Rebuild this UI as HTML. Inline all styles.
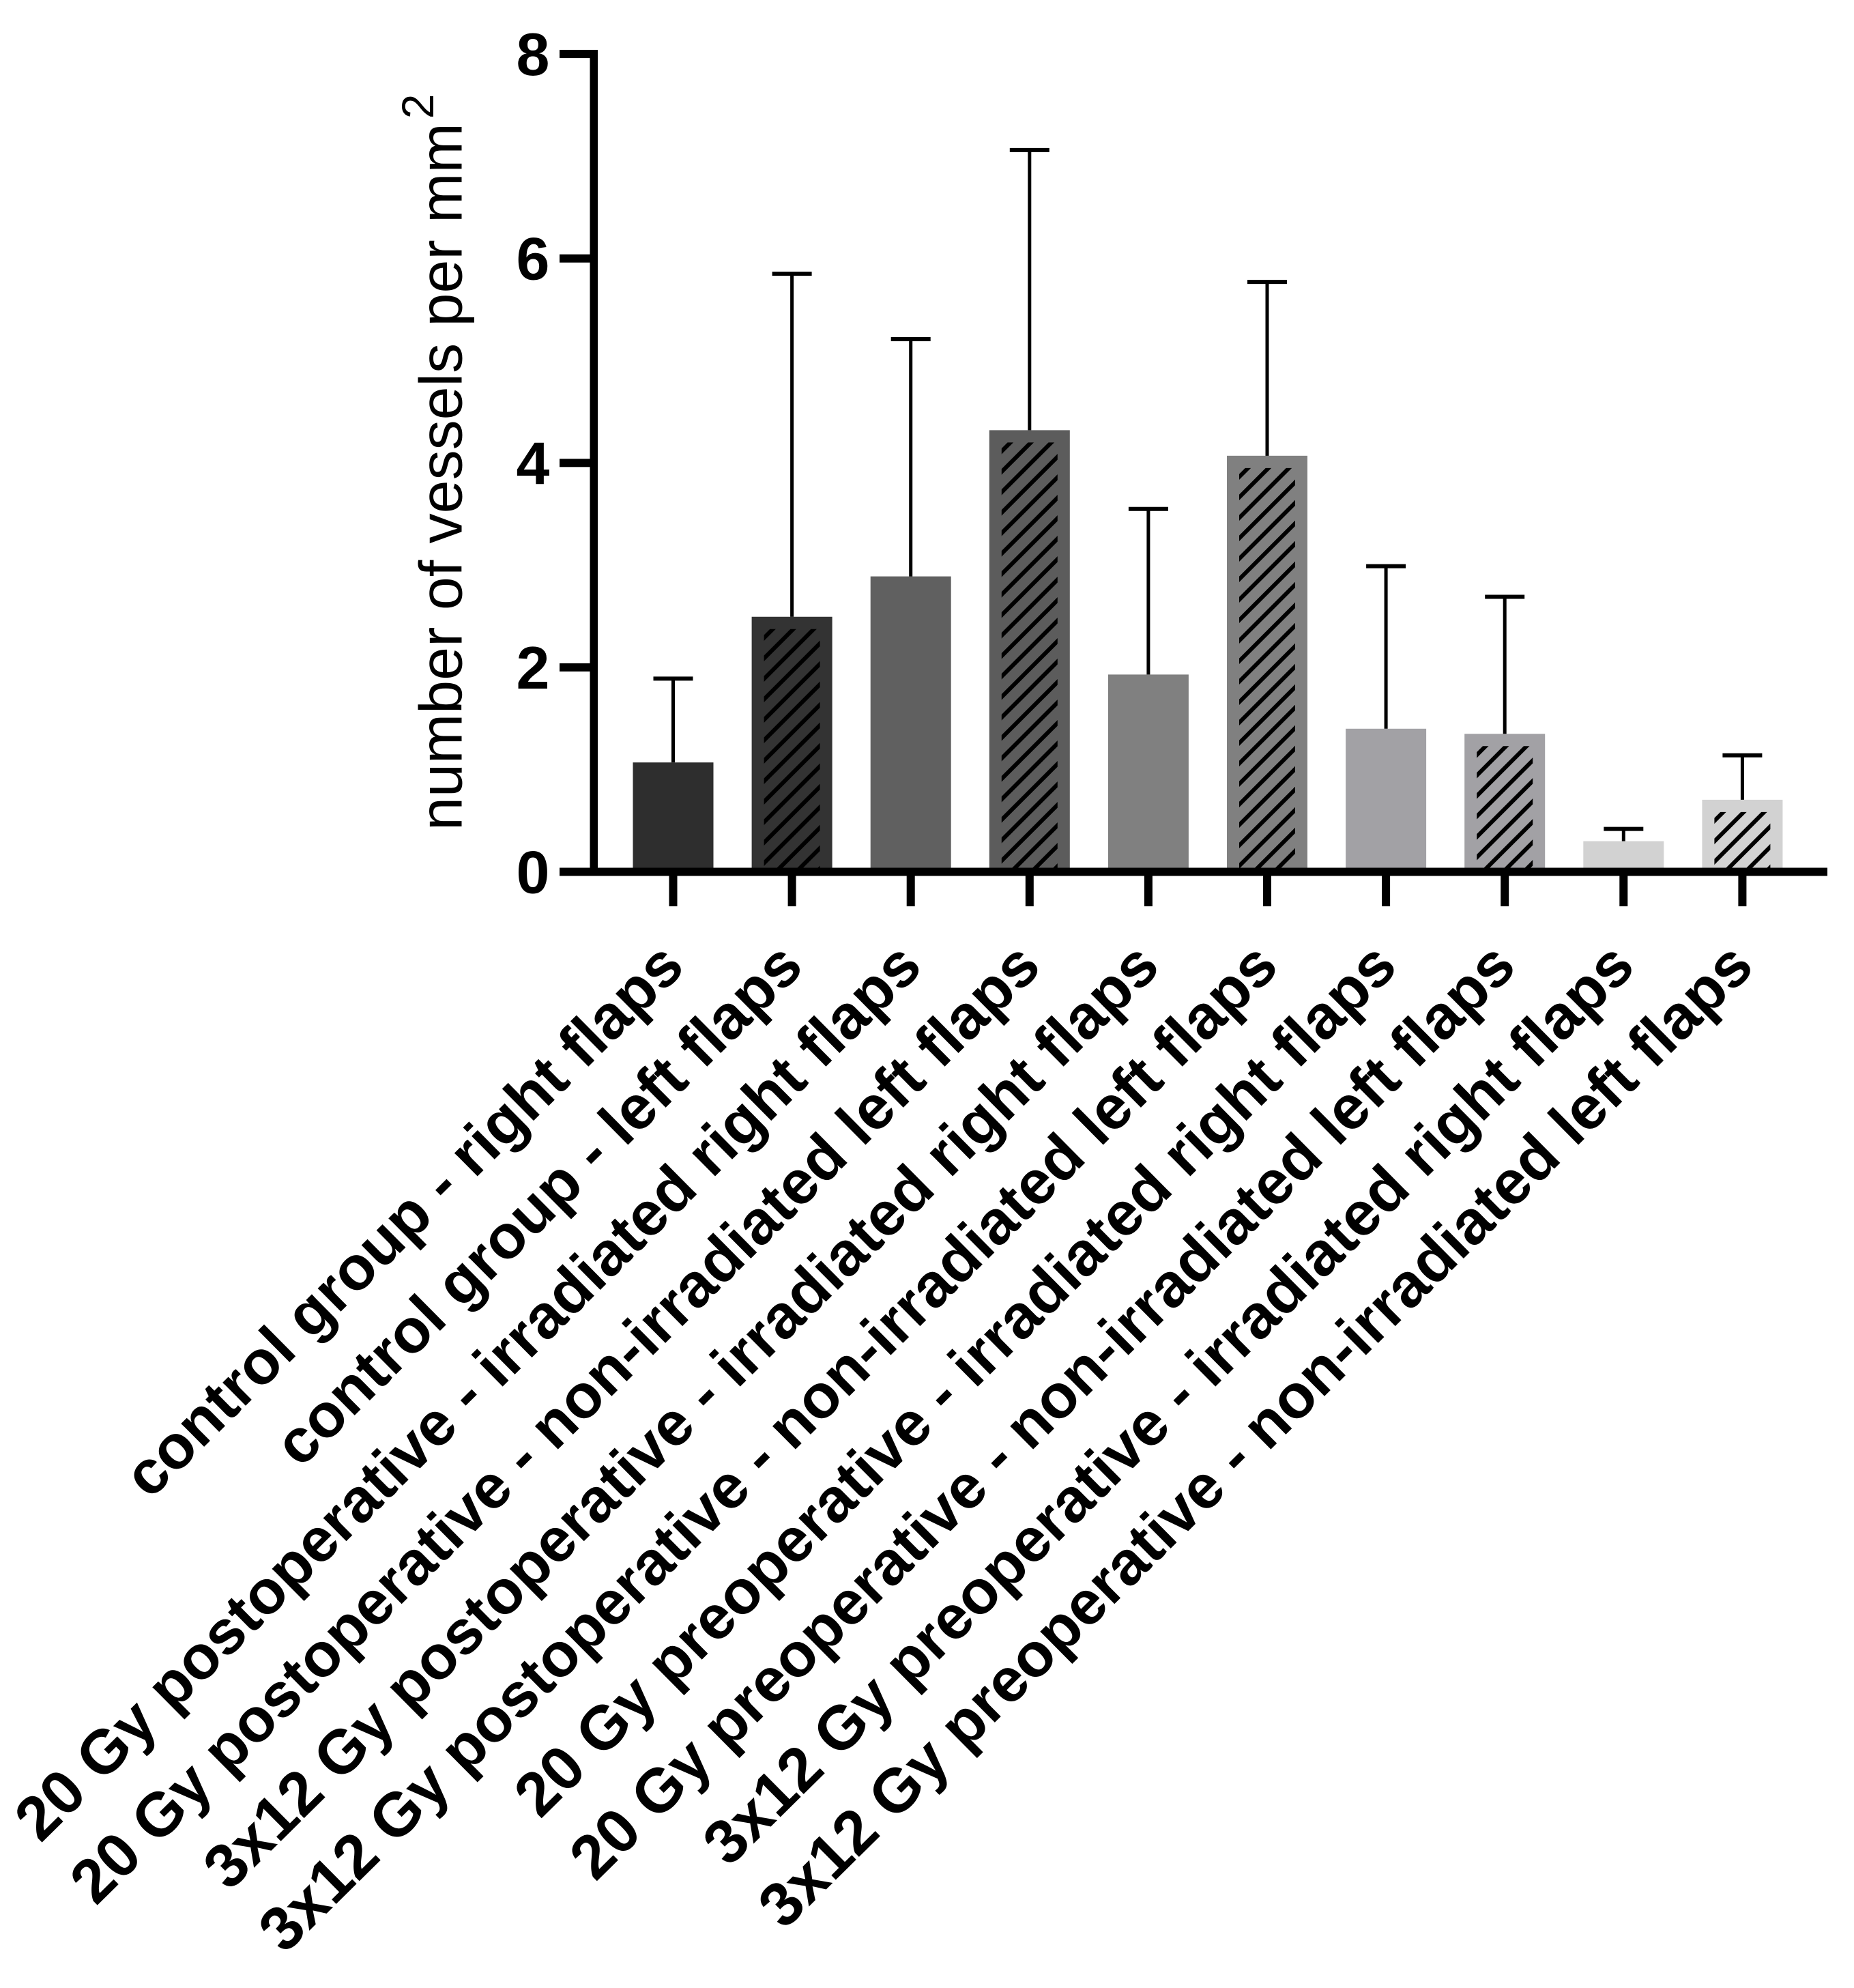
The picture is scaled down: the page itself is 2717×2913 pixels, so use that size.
<!DOCTYPE html>
<html lang="en">
<head>
<meta charset="utf-8">
<title>Number of vessels per mm²</title>
<style>
html,body{margin:0;padding:0;background:#fff;}
body{width:2717px;height:2913px;overflow:hidden;}
svg{display:block;font-family:"Liberation Sans",Arial,sans-serif;}
</style>
</head>
<body>
<svg id="chart" xmlns="http://www.w3.org/2000/svg" width="2717" height="2913" viewBox="0 0 2717 2913">
  <rect x="0" y="0" width="2717" height="2913" fill="#ffffff"/>
  <defs id="clips"></defs>
  <g id="bars"></g>
  <g id="axes"></g>
  <g id="xlabels"></g>
  <text transform="translate(676.5,1217) rotate(-90)" font-size="88" fill="#000">number of vessels per mm<tspan font-size="66" dx="6" dy="-41.5">2</tspan></text>
</svg>
<script>
const categories = [
  "control group - right flaps",
  "control group - left flaps",
  "20 Gy postoperative - irradiated right flaps",
  "20 Gy postoperative - non-irradiated left flaps",
  "3x12 Gy postoperative - irradiated right flaps",
  "3x12 Gy postoperative - non-irradiated left flaps",
  "20 Gy preoperative - irradiated right flaps",
  "20 Gy preoperative - non-irradiated left flaps",
  "3x12 Gy preoperative - irradiated right flaps",
  "3x12 Gy preoperative - non-irradiated left flaps"
];
const means = [1.07, 2.495, 2.89, 4.32, 1.93, 4.07, 1.40, 1.35, 0.30, 0.705];
const errorTops = [1.89, 5.85, 5.21, 7.06, 3.55, 5.77, 2.99, 2.69, 0.42, 1.14];
const hatched = [false, true, false, true, false, true, false, true, false, true];
const barFills = ["#2e2e2e", "#333333", "#606060", "#5c5c5c", "#808080", "#808080", "#a2a1a5", "#a2a1a5", "#d2d2d2", "#d2d2d2"];
const yTickLabels = [0, 2, 4, 6, 8];

const NS = "http://www.w3.org/2000/svg";
function yScale(v) { return 1277.5 - 149.8 * v; }
function xScale(i) { return 986.5 + 174.1 * i; }
function mk(tag, attrs, parent) {
  const el = document.createElementNS(NS, tag);
  for (const k in attrs) el.setAttribute(k, attrs[k]);
  parent.appendChild(el);
  return el;
}
const barsG = document.getElementById("bars");
const axesG = document.getElementById("axes");
const labelsG = document.getElementById("xlabels");
const clipsG = document.getElementById("clips");
const BAR_W = 118, INSET = 18, CAP_W = 58;

categories.forEach(function (cat, i) {
  const cx = xScale(i);
  const top = yScale(means[i]);
  const base = yScale(0);
  const bar = mk("rect", {x: cx - BAR_W / 2, y: top, width: BAR_W, height: base - top, fill: barFills[i]}, barsG);
  
  

  if (hatched[i]) {
    const hx = cx - BAR_W / 2 + INSET, hy = top + INSET;
    const hw = BAR_W - 2 * INSET, hh = base - hy;
    const clip = mk("clipPath", {id: "hatch-clip-" + i}, clipsG);
    mk("rect", {x: hx, y: hy, width: hw, height: hh}, clip);
    const hatch = mk("g", {"clip-path": "url(#hatch-clip-" + i + ")", stroke: "#000", "stroke-width": 6}, barsG);
    
    
    for (let d = 13; d < hw + hh + 30; d += 30) {
      mk("line", {x1: hx + d + 10, y1: hy - 10, x2: hx - 10, y2: hy + d + 10}, hatch);
    }
  }

  const ey = yScale(errorTops[i]);
  const stem = mk("line", {x1: cx, y1: top, x2: cx, y2: ey, stroke: "#000", "stroke-width": 5}, barsG);
  
  
  const cap = mk("line", {x1: cx - CAP_W / 2, y1: ey, x2: cx + CAP_W / 2, y2: ey, stroke: "#000", "stroke-width": 6}, barsG);
  
  

  const tick = mk("rect", {x: cx - 6, y: yScale(0), width: 12, height: 1328 - yScale(0), fill: "#000"}, axesG);
  
  

  const ax = cx + 20, ay = 1420;
  const lab = mk("text", {
    transform: "translate(" + ax + "," + ay + ") rotate(-44.7)",
    "text-anchor": "end",
    "font-size": 90.6,
    "font-weight": "bold",
    fill: "#000"
  }, labelsG);
  
  
  lab.textContent = cat;
});

yTickLabels.forEach(function (t) {
  const y = yScale(t);
  const tick = mk("rect", {x: 820, y: y - 6, width: 50, height: 12, fill: "#000"}, axesG);
  
  
  const lab = mk("text", {x: 805.5, y: y + 31, "text-anchor": "end", "font-size": 88, "font-weight": "bold", fill: "#000"}, axesG);
  
  
  lab.textContent = t;
});

const yAxis = mk("rect", {x: 864.5, y: yScale(8) - 6, width: 11.5, height: yScale(0) - yScale(8) + 12, fill: "#000"}, axesG);


const xAxis = mk("rect", {x: 820, y: yScale(0) - 6, width: 1858, height: 12, fill: "#000"}, axesG);


</script>
</body>
</html>
